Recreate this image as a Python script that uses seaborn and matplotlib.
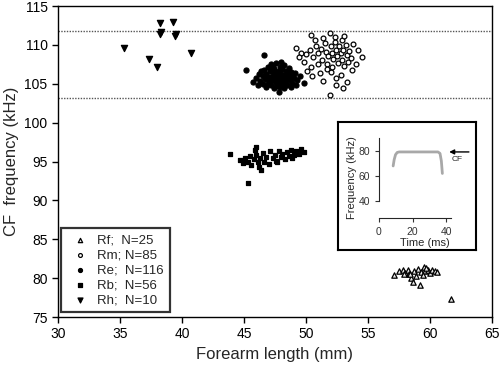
import numpy as np
import pandas as pd
import matplotlib
matplotlib.use('Agg')
import matplotlib.pyplot as plt
import seaborn as sns

# values (forearm length mm, CF kHz)
rf_x = [57.1, 57.5, 57.8, 58.0, 58.2, 58.3, 58.5, 58.6, 58.7, 58.9, 59.0, 59.2, 59.3,
        59.5, 59.6, 59.8, 60.0, 60.2, 60.4, 60.6, 59.4, 58.4, 57.9, 61.7, 59.7]
rf_y = [80.4, 80.9, 81.0, 80.7, 81.1, 80.5, 80.0, 79.5, 80.9, 80.3, 81.2, 79.1, 80.8,
        81.5, 80.9, 81.1, 80.7, 81.0, 80.9, 80.8, 80.4, 80.6, 80.6, 77.3, 81.3]

rm_x = [50.4, 51.9, 52.9, 51.4, 52.3, 53.1, 49.2, 54.2, 54.5, 53.4, 53.7, 52.0, 52.4,
        53.3, 52.4, 51.9, 51.1, 50.4, 49.6, 50.0, 50.3, 50.6, 50.8, 51.0, 51.2, 51.3,
        51.5, 51.6, 51.7, 51.8, 52.0, 52.1, 52.2, 52.3, 52.4, 52.5, 52.6, 52.7, 52.8,
        52.9, 53.0, 53.1, 53.2, 53.3, 53.5, 53.6, 53.8, 54.0, 49.8, 50.1, 50.5, 51.4,
        51.7, 52.8, 53.0, 50.7, 49.4, 51.0, 52.1]
rm_y = [111.3, 111.5, 110.6, 110.9, 111.0, 111.2, 109.6, 109.3, 108.4, 107.8, 106.8,
        106.5, 105.7, 105.2, 104.8, 103.6, 106.4, 107.2, 109.0, 108.8, 109.4, 108.5,
        109.9, 108.9, 109.5, 108.0, 110.2, 109.1, 107.6, 108.6, 109.8, 109.0, 108.2,
        110.4, 109.4, 108.6, 107.7, 109.9, 108.9, 108.1, 109.4, 107.3, 110.0, 108.7,
        109.2, 108.3, 110.1, 107.5, 107.8, 106.7, 106.0, 105.3, 106.9, 106.1, 104.4,
        110.6, 108.4, 107.5, 107.2]

re_x = [45.7, 45.2, 46.6, 46.0, 46.2, 46.3, 46.5, 46.5, 46.6, 46.7, 46.8, 46.8, 46.9,
        47.0, 47.0, 47.1, 47.2, 47.2, 47.3, 47.3, 47.4, 47.4, 47.5, 47.5, 47.6, 47.6,
        47.7, 47.7, 47.8, 47.8, 47.8, 47.9, 47.9, 48.0, 48.0, 48.1, 48.1, 48.2, 48.2,
        48.3, 48.3, 48.4, 48.5, 48.5, 48.6, 48.6, 48.7, 48.8, 48.9, 48.9, 49.0, 49.1,
        49.2, 49.3, 49.5, 49.8, 46.4, 46.9, 47.1, 47.6, 47.9, 48.4, 48.8, 47.3, 48.0, 46.1]
re_y = [105.2, 106.8, 108.7, 105.8, 106.3, 105.4, 106.0, 105.0, 106.8, 105.6, 106.3,
        104.6, 107.1, 105.9, 105.2, 106.6, 107.5, 104.9, 106.1, 105.5, 106.9, 104.4,
        105.8, 106.4, 107.7, 105.1, 106.0, 104.7, 106.7, 105.4, 104.0, 107.2, 105.9,
        106.3, 105.0, 106.9, 105.6, 104.5, 107.4, 106.1, 105.3, 106.6, 105.8, 104.9,
        107.0, 106.2, 105.5, 106.5, 105.1, 106.0, 105.7, 106.4, 104.8, 105.5, 106.0,
        105.1, 106.6, 105.0, 105.4, 106.5, 104.6, 105.0, 104.6, 107.2, 107.8, 104.9]

rb_x = [43.9, 46.0, 46.4, 45.3, 44.7, 44.9, 45.1, 45.3, 45.5, 45.6, 45.8, 46.0, 46.1,
        46.3, 46.5, 46.6, 46.8, 47.0, 47.1, 47.3, 47.5, 47.6, 47.8, 48.0, 48.1, 48.3,
        48.5, 48.6, 48.8, 49.0, 49.2, 49.4, 49.6, 49.8, 46.2, 47.7, 45.9, 48.9]
rb_y = [96.0, 96.9, 93.9, 92.2, 95.2, 94.8, 95.5, 95.0, 95.7, 94.6, 95.3, 95.9, 94.9,
        95.5, 96.1, 95.0, 95.6, 94.7, 96.3, 95.4, 95.9, 95.1, 96.4, 95.6, 96.0, 95.3,
        96.2, 95.7, 96.5, 95.9, 96.3, 96.0, 96.6, 96.2, 94.3, 94.9, 96.5, 95.4]

rh_x = [38.2, 39.3, 38.2, 39.5, 35.3, 37.3, 38.0, 40.7, 39.4, 38.3]
rh_y = [112.8, 112.9, 111.4, 111.4, 109.6, 108.2, 107.2, 109.0, 111.2, 111.6]

cf_band = [103.2, 111.8]

# inset: CF call sketch
call_t = [8.4, 9.0, 9.8, 10.8, 12.0, 35.0, 36.2, 37.0, 37.6]
call_f = [68, 73, 77, 78.8, 79.2, 79.2, 78, 72, 62]

sns.set_style('ticks')
plt.rcParams['font.family'] = ['Liberation Sans', 'DejaVu Sans']

fig = plt.figure(figsize=(5, 3.77), dpi=100)
ax = fig.add_axes([0.116, 0.159, 0.868, 0.825])

groups = [
    ('Rf;  N=25', rf_x, rf_y, '^', '#e8e8e8', 15),
    ('Rm; N=85', rm_x, rm_y, 'o', 'white', 12),
    ('Re;  N=116', re_x, re_y, 'o', 'black', 13),
    ('Rb;  N=56', rb_x, rb_y, 's', 'black', 9),
    ('Rh;  N=10', rh_x, rh_y, 'v', 'black', 20),
]
for lab, xs, ys, mk, fc, sz in groups:
    sns.scatterplot(x=xs, y=ys, ax=ax, marker=mk, s=sz, color=fc,
                    edgecolor='black', linewidth=0.9, label=lab, zorder=3)

for yv in cf_band:
    ax.axhline(yv, color='#555555', ls=(0, (1, 1)), lw=1.0, zorder=1)

ax.set_xlim(30, 65)
ax.set_ylim(75, 115)
ax.set_xticks(range(30, 66, 5))
ax.set_yticks(range(75, 116, 5))
ax.tick_params(labelsize=10, length=4, width=1, direction='out', colors='black')
for sp in ax.spines.values():
    sp.set_visible(True)
    sp.set_linewidth(1.0)
    sp.set_color('black')
ax.set_xlabel('Forearm length (mm)', fontsize=12)
ax.set_ylabel('CF  frequency (kHz)', fontsize=12)

leg = ax.legend(loc='lower left', bbox_to_anchor=(0.007, 0.016), borderaxespad=0,
                fontsize=9.5, frameon=True, fancybox=False, labelspacing=0.2,
                handletextpad=0.3, handlelength=2.0, borderpad=0.45, markerscale=0.8)
leg.get_frame().set_edgecolor('black')
leg.get_frame().set_linewidth(1.6)

# inset box
box = fig.add_axes([0.676, 0.337, 0.276, 0.339])
box.set_xticks([])
box.set_yticks([])
for sp in box.spines.values():
    sp.set_visible(True)
    sp.set_linewidth(1.5)
    sp.set_color('black')
box.set_facecolor('white')
box.set_zorder(5)

ins = fig.add_axes([0.758, 0.4218, 0.182, 0.215])
ins.set_zorder(6)
ins.patch.set_alpha(0)
sns.lineplot(x=call_t, y=call_f, ax=ins, color='#a8a8a8', lw=2)
ins.set_xlim(0, 54)
ins.set_ylim(26.4, 91.2)
ins.set_xticks([0, 20, 40])
ins.set_yticks([40, 60, 80])
ins.spines['left'].set_bounds(40, 90)
ins.spines['bottom'].set_bounds(0, 43)
ins.spines['top'].set_visible(False)
ins.spines['right'].set_visible(False)
ins.tick_params(labelsize=7.5, length=3, width=0.8, colors='#333333')
ins.set_xlabel('Time (ms)', fontsize=8, labelpad=1)
ins.set_ylabel('Frequency (kHz)', fontsize=8, labelpad=1)
ins.annotate('', xy=(40, 79.2), xytext=(55, 79.2),
             arrowprops=dict(arrowstyle='-|>', color='black', lw=1, mutation_scale=7))
ins.text(43, 76, 'CF', fontsize=6, va='top')

fig.savefig('out.png', dpi=100)
